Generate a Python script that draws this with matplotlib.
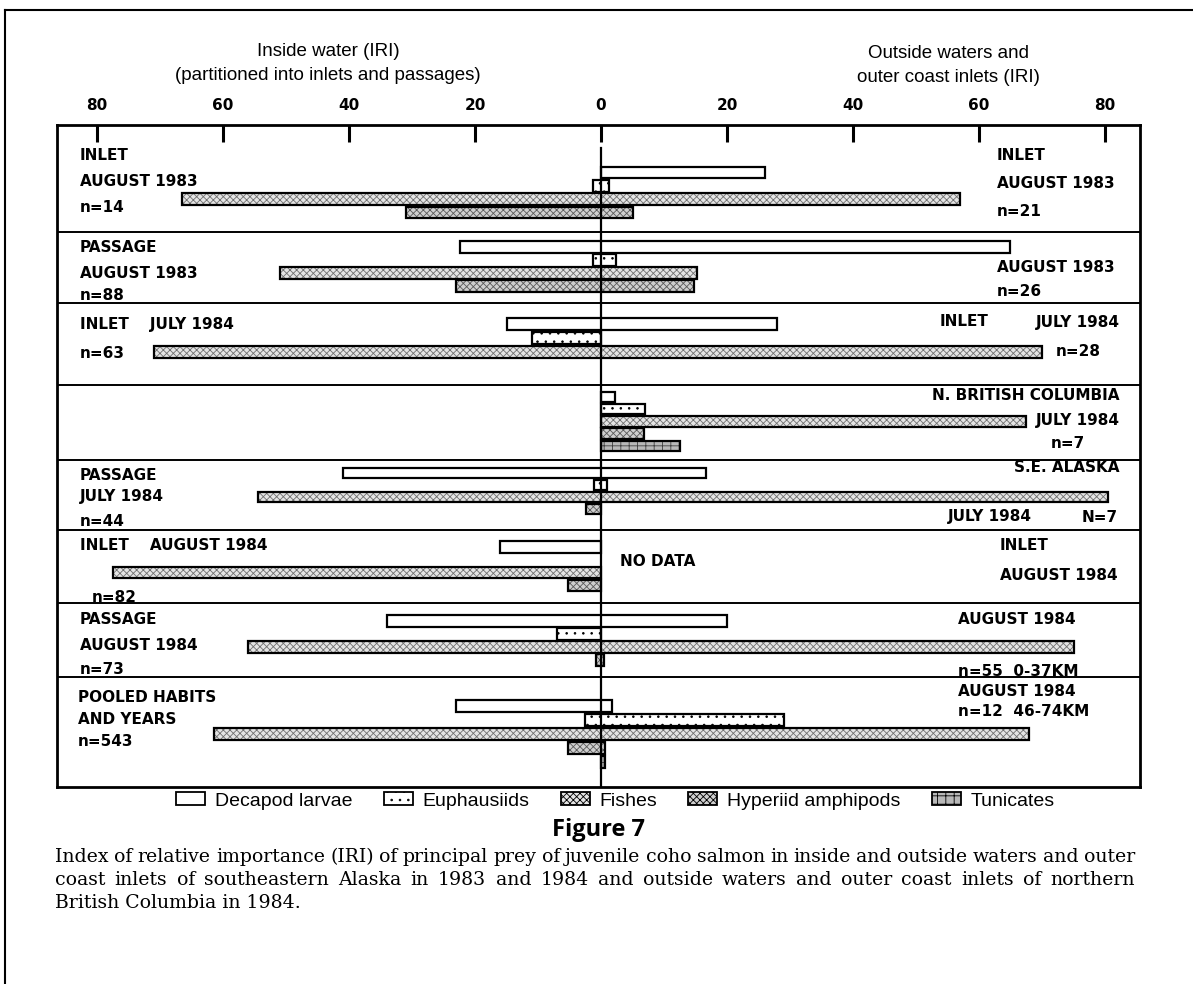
import matplotlib
matplotlib.use("Agg")
import matplotlib.pyplot as plt
from matplotlib.patches import Patch
from matplotlib.lines import Line2D

# ---------------- data (IRI) ----------------
panels = ["INLET AUG 1983", "PASSAGE AUG 1983", "INLET JUL 1984", "N.BC JUL 1984",
          "PASSAGE JUL 1984", "INLET AUG 1984", "PASSAGE AUG 1984", "POOLED"]
prey = ["Decapod larvae", "Euphausiids", "Fishes", "Hyperiid amphipods", "Tunicates"]

# inside waters (plotted to the left) / outside waters (to the right)
decapod_in  = [0, 22.4, 15, 0, 41, 16, 34, 23]
decapod_out = [26, 65, 28, 2.3, 16.7, 0, 20, 1.8]
euph_in     = [1.3, 1.3, 11, 0, 1.1, 0, 7, 2.5]
euph_out    = [1.3, 2.4, 0, 7, 1.0, 0, 0, 29]
fishes_in   = [66.5, 51, 71, 0, 54.5, 77.5, 56, 61.5]
fishes_out  = [57, 15.3, 70, 67.5, 80.5, 0, 75, 68]
hyper_in    = [31, 23, 0, 0, 2.4, 5.2, 0.8, 5.2]
hyper_out   = [5, 14.8, 0, 6.8, 0, 0, 0.5, 0.7]
tunic_in    = [0, 0, 0, 0, 0, 0, 0, 0]
tunic_out   = [0, 0, 0, 12.5, 0, 0, 0, 0.6]

ins = [decapod_in, euph_in, fishes_in, hyper_in, tunic_in]
outs = [decapod_out, euph_out, fishes_out, hyper_out, tunic_out]

tick_vals = [-80, -60, -40, -20, 0, 20, 40, 60, 80]
tick_labels = ["80", "60", "40", "20", "0", "20", "40", "60", "80"]

# ---------------- layout (figure pixel space) ----------------
W, H = 1193, 984
PX = 6.3                     # pixels per IRI unit
X0 = 601                     # pixel of zero
AX_L, AX_R, AX_T, AX_B = 57, 1140, 125, 787
panel_bounds = [125, 232, 303, 385, 460, 530, 603, 677, 787]
first_center = [172.5, 247, 324, 397, 473, 547, 621, 706]
spacing = [13.3, 13, 14, 12.2, 12, 12.8, 13, 14]

styles = [
    dict(face="white", hatch=None, hcol="black"),
    dict(face="white", hatch="..", hcol="black"),
    dict(face="#e4e4e4", hatch="xxxxx", hcol="#707070"),
    dict(face="#cfcfcf", hatch="xxxxx", hcol="#5a5a5a"),
    dict(face="#b8b8b8", hatch="++", hcol="#404040"),
]
plt.rcParams["hatch.linewidth"] = 0.6

def px2x(p):
    return (p - X0) / PX

fig = plt.figure(figsize=(W / 100, H / 100), dpi=100)
ax = fig.add_axes([AX_L / W, 1 - AX_B / H, (AX_R - AX_L) / W, (AX_B - AX_T) / H])
ax.set_xlim(px2x(AX_L), px2x(AX_R))
ax.set_ylim(AX_B, AX_T)

for k in range(len(prey)):
    st = styles[k]
    for i in range(len(panels)):
        a, b = ins[k][i], outs[k][i]
        if a == 0 and b == 0:
            continue
        y = first_center[i] + k * spacing[i]
        h = spacing[i] * 0.86
        if st["hatch"]:
            ax.barh(y, a + b, left=-a, height=h, color=st["face"], hatch=st["hatch"],
                    edgecolor=st["hcol"], linewidth=0, zorder=2)
        else:
            ax.barh(y, a + b, left=-a, height=h, color=st["face"], linewidth=0, zorder=2)
        ax.barh(y, a + b, left=-a, height=h, fill=False, edgecolor="black",
                linewidth=1.6, zorder=3)

# panel separators
for yb in panel_bounds[1:-1]:
    ax.axhline(yb, color="black", lw=1.4, zorder=4)
# zero line
ax.plot([0, 0], [148, AX_B], color="black", lw=1.6, zorder=5)

# axis styling
for s in ax.spines.values():
    s.set_linewidth(2)
ax.xaxis.tick_top()
ax.set_xticks(tick_vals)
ax.set_xticklabels(tick_labels, fontsize=11, fontweight="bold", family="DejaVu Sans")
ax.tick_params(axis="x", direction="in", length=12, width=2.2, pad=9)
ax.set_yticks([])

# panel annotation texts (pixel positions)
lab = dict(fontsize=11, fontweight="bold", family="DejaVu Sans", va="center", zorder=6)
texts_left = [
    ("INLET", 80, 156), ("AUGUST 1983", 80, 182), ("n=14", 80, 207),
    ("PASSAGE", 80, 247), ("AUGUST 1983", 80, 273), ("n=88", 80, 296),
    ("INLET    JULY 1984", 80, 324), ("n=63", 80, 354),
    ("PASSAGE", 80, 475), ("JULY 1984", 80, 497), ("n=44", 80, 521),
    ("INLET    AUGUST 1984", 80, 546), ("n=82", 92, 597),
    ("NO DATA", 620, 561),
    ("PASSAGE", 80, 620), ("AUGUST 1984", 80, 645), ("n=73", 80, 670),
    ("POOLED HABITS", 78, 697), ("AND YEARS", 78, 719), ("n=543", 78, 741),
    ("INLET", 997, 156), ("AUGUST 1983", 997, 183), ("n=21", 997, 211),
    ("AUGUST 1983", 997, 267), ("n=26", 997, 291),
    ("INLET", 940, 322), ("n=28", 1056, 352),
    ("JULY 1984", 948, 517),
    ("INLET", 1000, 546), ("AUGUST 1984", 1000, 575),
    ("AUGUST 1984", 958, 619), ("n=55  0-37KM", 958, 672),
    ("AUGUST 1984", 958, 692), ("n=12  46-74KM", 958, 712),
]
for t, x, y in texts_left:
    ax.text(px2x(x), y, t, ha="left", **lab)
texts_right = [
    ("JULY 1984", 1120, 322),
    ("N. BRITISH COLUMBIA", 1120, 396), ("JULY 1984", 1120, 420), ("n=7", 1085, 444),
    ("S.E. ALASKA", 1120, 468), ("N=7", 1118, 517),
]
for t, x, y in texts_right:
    ax.text(px2x(x), y, t, ha="right", **lab)

# headers
hdr = dict(fontsize=13.5, family="Liberation Sans", ha="center", va="center")
fig.text(328 / W, 1 - 52 / H, "Inside water (IRI)", **hdr)
fig.text(328 / W, 1 - 75 / H, "(partitioned into inlets and passages)", **hdr)
fig.text(948 / W, 1 - 54 / H, "Outside waters and", **hdr)
fig.text(948 / W, 1 - 77 / H, "outer coast inlets (IRI)", **hdr)

# legend
handles = []
for k, name in enumerate(prey):
    st = styles[k]
    handles.append(Patch(facecolor=st["face"], edgecolor="black", hatch=st["hatch"],
                         linewidth=1.3, label=name))
fig.legend(handles=handles, loc="center left", bbox_to_anchor=(176 / W, 1 - 801 / H),
           ncol=5, frameon=False, handlelength=1.5, handleheight=0.6,
           handletextpad=0.5, columnspacing=1.6, borderaxespad=0, borderpad=0,
           prop=dict(family="Liberation Sans", size=14))

# caption
fig.text(598 / W, 1 - 830 / H, "Figure 7", fontsize=17, fontweight="bold",
         family="Open Sans", ha="center", va="center")
cap = ["Index of relative importance (IRI) of principal prey of juvenile coho salmon in inside and outside waters and outer",
       "coast inlets of southeastern Alaska in 1983 and 1984 and outside waters and outer coast inlets of northern",
       "British Columbia in 1984."]
CAP_L, CAP_R = 55, 1135
cap_kw = dict(fontsize=13.6, family="DejaVu Serif", ha="left", va="center")
renderer = fig.canvas.get_renderer()
for j, line in enumerate(cap):
    yfig = 1 - (857 + 23 * j) / H
    if j == len(cap) - 1:
        fig.text(CAP_L / W, yfig, line, **cap_kw)
        continue
    words = line.split(" ")
    arts = [fig.text(0, yfig, w_, **cap_kw) for w_ in words]
    widths = [a_.get_window_extent(renderer).width for a_ in arts]
    gap = (CAP_R - CAP_L - sum(widths)) / (len(words) - 1)
    xpos = CAP_L
    for a_, w_ in zip(arts, widths):
        a_.set_x(xpos / W)
        xpos += w_ + gap

# outer frame
fig.add_artist(Line2D([5 / W, 5 / W], [0, 1 - 10 / H], color="black", lw=1.5,
                      transform=fig.transFigure))
fig.add_artist(Line2D([5 / W, 1], [1 - 10 / H, 1 - 10 / H], color="black", lw=1.5,
                      transform=fig.transFigure))

fig.savefig("out.png", dpi=100)
